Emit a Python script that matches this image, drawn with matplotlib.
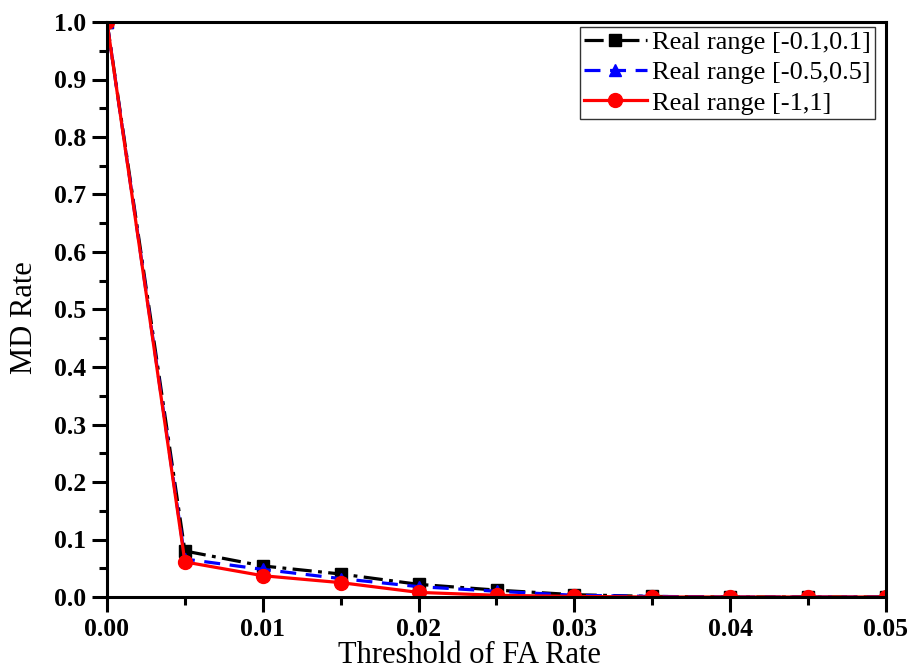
import matplotlib
matplotlib.use("Agg")
import matplotlib.pyplot as plt
from matplotlib.ticker import MultipleLocator

x = [0.0, 0.005, 0.01, 0.015, 0.02, 0.025, 0.03, 0.035, 0.04, 0.045, 0.05]
y_01 = [1.0, 0.080, 0.054, 0.040, 0.022, 0.012, 0.004, 0.001, 0.0, 0.0, 0.0]
y_05 = [1.0, 0.066, 0.048, 0.032, 0.018, 0.010, 0.003, 0.001, 0.0, 0.0, 0.0]
y_1 = [1.0, 0.061, 0.037, 0.025, 0.008, 0.003, 0.001, 0.0, 0.0, 0.0, 0.0]
labels = ["Real range [-0.1,0.1]", "Real range [-0.5,0.5]", "Real range [-1,1]"]

plt.rcParams['font.family'] = ['Liberation Serif', 'DejaVu Serif']

fig = plt.figure(figsize=(9.12, 6.71), dpi=100)
L, R, T, B = 107, 886, 22, 597
ax = fig.add_axes([L / 912, (671 - B) / 671, (R - L) / 912, (B - T) / 671])

ax.plot(x, y_01, color='black', linestyle=(0, (6, 2, 1.2, 2)), linewidth=2.3, marker='s', markersize=8, label=labels[0])
ax.plot(x, y_05, color='blue', linestyle=(0, (5, 3)), linewidth=2.3, marker='^', markersize=9, label=labels[1])
ax.plot(x, y_1, color='red', linestyle='-', linewidth=2.3, marker='o', markersize=10, label=labels[2])

ax.set_xlim(0, 0.05)
ax.set_ylim(0, 1.0)
ax.xaxis.set_major_locator(MultipleLocator(0.01))
ax.xaxis.set_minor_locator(MultipleLocator(0.005))
ax.yaxis.set_major_locator(MultipleLocator(0.1))
ax.yaxis.set_minor_locator(MultipleLocator(0.05))
ax.set_xticks(ax.get_xticks())
ax.set_xticklabels([f"{v:.2f}" for v in ax.get_xticks()])
ax.set_yticks(ax.get_yticks())
ax.set_yticklabels([f"{v:.1f}" for v in ax.get_yticks()])
ax.set_xlim(0, 0.05)
ax.set_ylim(0, 1.0)
ax.tick_params(which='major', direction='out', length=11, width=2.2, labelsize=18.5, pad=4)
ax.tick_params(which='minor', direction='out', length=6, width=2.2)
for lab in ax.get_xticklabels() + ax.get_yticklabels():
    lab.set_fontweight('bold')
for s in ax.spines.values():
    s.set_linewidth(2.2)

ax.set_xlabel("Threshold of FA Rate", fontsize=22)
ax.set_ylabel("MD Rate", fontsize=22)
ax.xaxis.set_label_coords(0.465, -0.077)
ax.yaxis.set_label_coords(-0.087, 0.485)

leg = ax.legend(loc='upper right', bbox_to_anchor=((875 - L) / (R - L), (B - 27) / (B - T)),
                fontsize=19, frameon=True, fancybox=False,
                edgecolor='black', handlelength=2.4, handletextpad=0.2,
                borderpad=0.15, labelspacing=0.25, borderaxespad=0.0)
leg.get_frame().set_linewidth(1.0)

fig.savefig("out.png", dpi=100)
